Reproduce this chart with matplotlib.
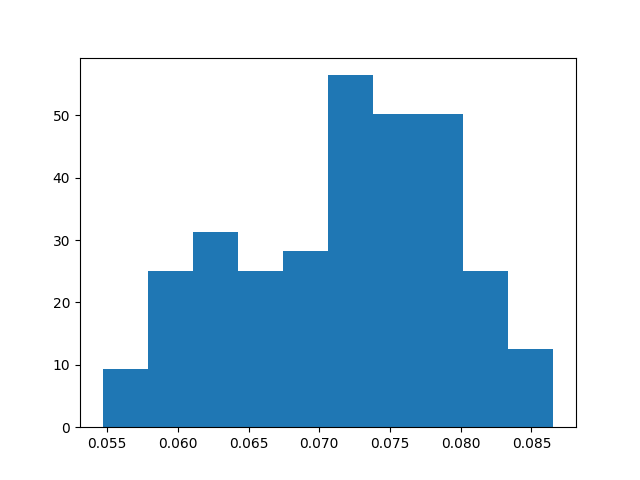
import matplotlib

matplotlib.use("Agg")
import matplotlib.pyplot as plt
import numpy as np

# histogram: 10 equal bins, density-normalised
bin_lo = 0.05467
bin_hi = 0.08656
counts = [3, 8, 10, 8, 9, 18, 16, 16, 8, 4]

edges = np.linspace(bin_lo, bin_hi, len(counts) + 1)
centers = (edges[:-1] + edges[1:]) / 2

fig, ax = plt.subplots(figsize=(6.4, 4.8), dpi=100)
ax.hist(centers, bins=edges, weights=counts, density=True, color="#1f77b4")
fig.savefig("out.png")
